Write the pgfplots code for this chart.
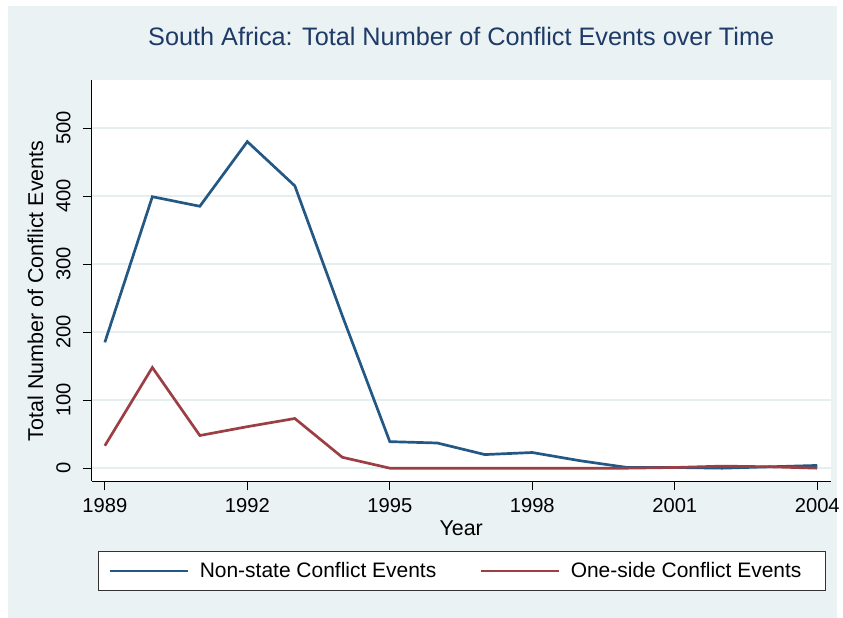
\documentclass[border=0pt]{standalone}
\usepackage{fontspec}
\setmainfont{Liberation Sans}
\usepackage{pgfplots}
\pgfplotsset{compat=1.18}

\definecolor{bgc}{HTML}{EAF2F3}
\definecolor{gridc}{HTML}{E6EFF0}
\definecolor{snavy}{HTML}{235885}
\definecolor{smaroon}{HTML}{9C3F45}
\definecolor{titlec}{HTML}{1E3A66}

% Non-state conflict events per year
\pgfplotstableread{
year events
1989 185
1990 399
1991 385
1992 480
1993 415
1994 224
1995 39
1996 37
1997 20
1998 23
1999 11
2000 1
2001 1
2002 0
2003 2
2004 4
}\nonstate

% One-sided violence events per year
\pgfplotstableread{
year events
1989 33
1990 148
1991 48
1992 61
1993 73
1994 16
1995 0
1996 0
1997 0
1998 0
1999 0
2000 0
2001 1
2002 3
2003 2
2004 0
}\oneside

\begin{document}
\begin{tikzpicture}[x=1pt,y=1pt]
  % graph region
  \fill[white] (0,0) rectangle (843,619);
  \fill[bgc] (8,0) rectangle (838,613);

  \begin{axis}[
    at={(92pt,137pt)}, anchor=south west,
    scale only axis, width=740pt, height=402pt,
    xmin=1988.726, xmax=2004.28,
    ymin=-19.1, ymax=570.8,
    axis background/.style={fill=white},
    axis x line*=bottom, axis y line*=left,
    axis line style={-, black, line width=1.1pt},
    xtick={1989,1992,...,2004},
    ytick={0,100,...,500},
    /pgf/number format/assume math mode=true,
    /pgf/number format/set thousands separator={},
    tick align=outside,
    major tick length=9pt,
    tick style={black, line width=1pt},
    ymajorgrids,
    major grid style={gridc, line width=1.4pt},
    tick label style={font=\fontsize{20.2}{24}\selectfont},
    xticklabel style={anchor=base, yshift=-22pt},
    yticklabel style={rotate=90, anchor=base, yshift=12.5pt},
    title={South Africa: Total Number of Conflict Events over Time},
    title style={at={(axis description cs:0.5,1.0704)}, anchor=base,
      font=\fontsize{25.3}{30}\selectfont, text=titlec},
    xlabel={Year},
    xlabel style={at={(axis description cs:0.5,-0.1361)}, anchor=base,
      font=\fontsize{21.5}{26}\selectfont},
    ylabel={Total Number of Conflict Events},
    ylabel style={at={(axis description cs:-0.0658,0.474)}, anchor=base,
      rotate=0, font=\fontsize{21.5}{26}\selectfont},
    legend columns=2,
    legend style={at={(axis description cs:0.0081,-0.2239)}, anchor=west,
      draw=black!80, line width=0.9pt, fill=white,
      inner xsep=10pt, inner ysep=11pt,
      font=\fontsize{21}{25}\selectfont,
      nodes={inner sep=0pt},
      /tikz/every odd column/.append style={column sep=10pt},
      /tikz/every even column/.append style={column sep=43pt}},
    legend cell align=left,
    legend image code/.code={\draw[#1, line width=2.7pt] (0pt,0pt) -- (79pt,0pt);},
  ]
    \addplot[snavy, line width=2.7pt] table[x=year, y=events] {\nonstate};
    \addlegendentry{Non-state Conflict Events}
    \addplot[smaroon, line width=2.7pt] table[x=year, y=events] {\oneside};
    \addlegendentry{One-side Conflict Events\hspace{14pt}\mbox{}}
  \end{axis}
\end{tikzpicture}
\end{document}
